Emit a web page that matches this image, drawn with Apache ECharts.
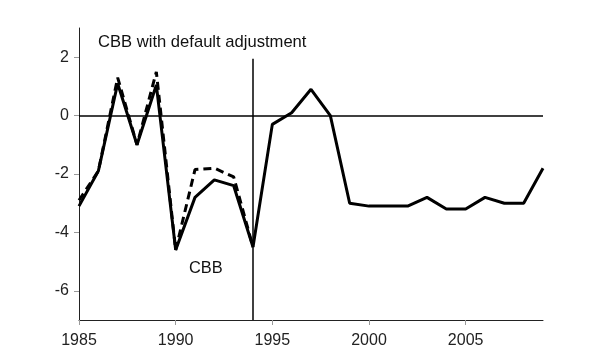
<!DOCTYPE html>
<html>
<head>
<meta charset="utf-8">
<script src="https://cdn.jsdelivr.net/npm/echarts@6/dist/echarts.min.js"></script>
<style>html,body{margin:0;padding:0;background:#fff;}#c{width:600px;height:360px;}</style>
</head>
<body>
<div id="c"></div>
<script>
var years = [1985,1986,1987,1988,1989,1990,1991,1992,1993,1994,1995,1996,1997,1998,1999,2000,2001,2002,2003,2004,2005,2006,2007,2008,2009];
var cbb = [-3.1,-1.9,1.1,-1.0,1.05,-4.6,-2.8,-2.2,-2.4,-4.5,-0.3,0.1,0.9,0.0,-3.0,-3.1,-3.1,-3.1,-2.8,-3.2,-3.2,-2.8,-3.0,-3.0,-1.8];
var adjYears = [1985,1986,1987,1988,1989,1990,1991,1992,1993,1994];
var cbbAdj = [-2.9,-1.9,1.3,-1.0,1.5,-4.6,-1.85,-1.8,-2.1,-4.5];
var yTicks = [-6,-4,-2,0,2];
var breakYear = 1994;

var chart = echarts.init(document.getElementById('c'), null, {renderer:'canvas'});
var font = 'Liberation Sans, Arial, sans-serif';
chart.setOption({
  animation:false,
  backgroundColor:'#fff',
  grid:{left:79,right:57,top:28,bottom:40},
  xAxis:{type:'value',min:1985,max:2009,interval:5,
    axisLine:{show:true,onZero:false,lineStyle:{color:'#222',width:1}},
    axisTick:{show:true,length:5,lineStyle:{color:'#999'}},
    axisLabel:{color:'#222',fontSize:16,fontFamily:font,margin:13,showMaxLabel:false,
      formatter:function(v){return String(v);}},
    splitLine:{show:false}},
  yAxis:{type:'value',min:-7,max:3,
    axisLine:{show:true,onZero:false,lineStyle:{color:'#222',width:1}},
    axisTick:{show:true,length:5,customValues:yTicks,lineStyle:{color:'#999'}},
    axisLabel:{color:'#222',fontSize:16,fontFamily:font,margin:10,customValues:yTicks},
    splitLine:{show:false}},
  graphic:[
    {type:'text',left:98,top:34,style:{text:'CBB with default adjustment',fill:'#111',font:'16.6px '+font}},
    {type:'text',left:189,top:260,style:{text:'CBB',fill:'#111',font:'16.4px '+font}}
  ],
  series:[
    {type:'line',data:years.map(function(y,i){return [y,cbb[i]];}),symbol:'none',
      lineStyle:{color:'#000',width:3},z:3,
      markLine:{silent:true,symbol:'none',label:{show:false},
        lineStyle:{color:'#000',width:1.5,type:'solid'},
        data:[
          {yAxis:0},
          [{coord:[breakYear,-7]},{coord:[breakYear,1.95]}]
        ]}},
    {type:'line',data:adjYears.map(function(y,i){return [y,cbbAdj[i]];}),symbol:'none',
      lineStyle:{color:'#000',width:3,type:[8,5]},z:4}
  ]
});
</script>
</body>
</html>
